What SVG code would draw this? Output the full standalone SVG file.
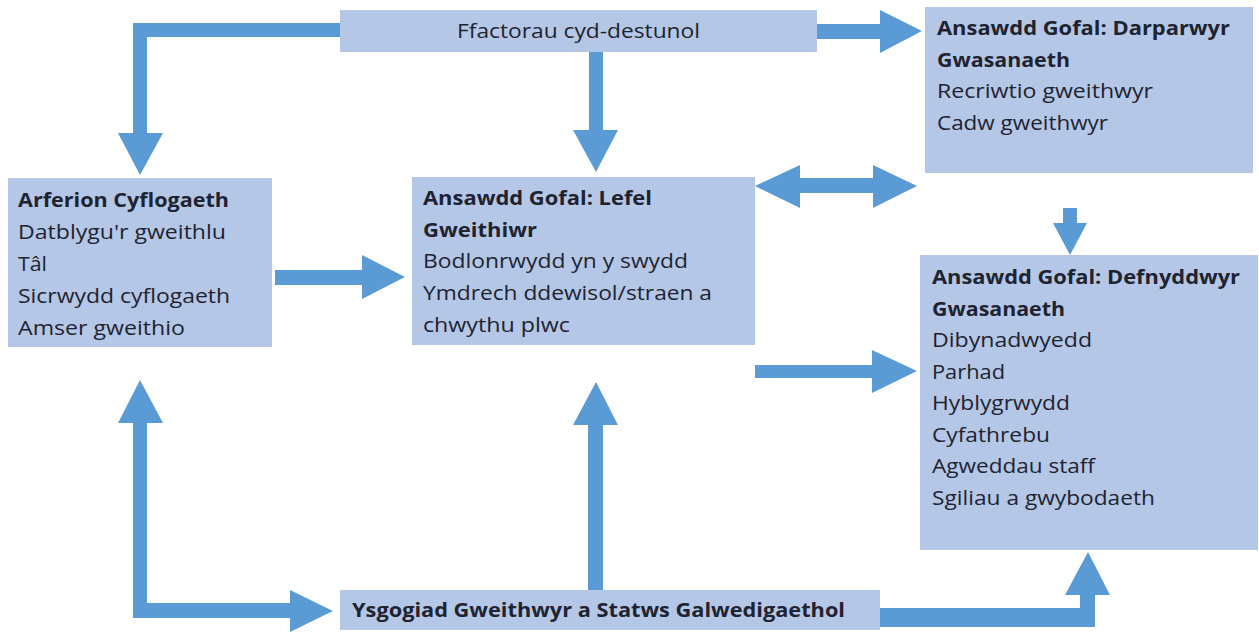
<svg xmlns="http://www.w3.org/2000/svg" width="1259" height="632" viewBox="0 0 1259 632">
<style>
.box{fill:#b4c7e7;}
.arr{fill:#5b9bd5;}
text{font-family:"Open Sans","Liberation Sans",sans-serif;font-size:20px;fill:#1f2330;}
.b{font-weight:bold;}
</style>
<rect x="0" y="0" width="1259" height="632" fill="#ffffff"/>
<g id="connectors">
<polygon class="arr" points="340,23 133,23 133,133 118,133 140,175 163,133 147,133 147,37 340,37"/>
<polygon class="arr" points="589,52 603,52 603,130 618,130 596,172 573,130 589,130"/>
<polygon class="arr" points="817,24 880,24 880,10 922,31 880,53 880,39 817,39"/>
<polygon class="arr" points="275,270 362,270 362,255 405,277 362,299 362,285 275,285"/>
<polygon class="arr" points="755,186 800,165 800,178 873,178 873,165 917,186 873,208 873,193 800,193 800,208"/>
<polygon class="arr" points="1063,208 1077,208 1077,223 1087,223 1070,255 1053,223 1063,223"/>
<polygon class="arr" points="755,365 872,365 872,350 917,371 872,393 872,378 755,378"/>
<polygon class="arr" points="140,380 163,423 147,423 147,603 290,603 290,590 333,611 290,632 290,618 133,618 133,423 118,423"/>
<polygon class="arr" points="596,382 618,425 603,425 603,590 588,590 588,425 573,425"/>
<polygon class="arr" points="880,608 1080,608 1080,595 1065,595 1088,552 1110,595 1095,595 1095,627 880,627"/>
</g>
<g id="ffactorau">
<rect class="box" x="340" y="10" width="477" height="42"/>
<text x="457" y="38" textLength="243" lengthAdjust="spacingAndGlyphs">Ffactorau cyd-destunol</text>
</g>
<g id="arferion">
<rect class="box" x="8" y="178" width="264" height="169"/>
<text class="b" x="18" y="207" textLength="211" lengthAdjust="spacingAndGlyphs">Arferion Cyflogaeth</text>
<text x="18" y="239" textLength="208" lengthAdjust="spacingAndGlyphs">Datblygu'r gweithlu</text>
<text x="18" y="271" textLength="29" lengthAdjust="spacingAndGlyphs">Tâl</text>
<text x="18" y="303" textLength="212" lengthAdjust="spacingAndGlyphs">Sicrwydd cyflogaeth</text>
<text x="18" y="335" textLength="167" lengthAdjust="spacingAndGlyphs">Amser gweithio</text>
</g>
<g id="lefel">
<rect class="box" x="412" y="177" width="343" height="168"/>
<text class="b" x="423" y="205" textLength="229" lengthAdjust="spacingAndGlyphs">Ansawdd Gofal: Lefel</text>
<text class="b" x="423" y="237" textLength="114" lengthAdjust="spacingAndGlyphs">Gweithiwr</text>
<text x="423" y="268" textLength="265" lengthAdjust="spacingAndGlyphs">Bodlonrwydd yn y swydd</text>
<text x="423" y="300" textLength="289" lengthAdjust="spacingAndGlyphs">Ymdrech ddewisol/straen a</text>
<text x="423" y="332" textLength="147" lengthAdjust="spacingAndGlyphs">chwythu plwc</text>
</g>
<g id="darparwyr">
<rect class="box" x="925" y="7" width="328" height="166"/>
<text class="b" x="937" y="35" textLength="293" lengthAdjust="spacingAndGlyphs">Ansawdd Gofal: Darparwyr</text>
<text class="b" x="937" y="67" textLength="133" lengthAdjust="spacingAndGlyphs">Gwasanaeth</text>
<text x="937" y="98" textLength="216" lengthAdjust="spacingAndGlyphs">Recriwtio gweithwyr</text>
<text x="937" y="130" textLength="171" lengthAdjust="spacingAndGlyphs">Cadw gweithwyr</text>
</g>
<g id="defnyddwyr">
<rect class="box" x="920" y="255" width="338" height="295"/>
<text class="b" x="932" y="284" textLength="308" lengthAdjust="spacingAndGlyphs">Ansawdd Gofal: Defnyddwyr</text>
<text class="b" x="932" y="316" textLength="133" lengthAdjust="spacingAndGlyphs">Gwasanaeth</text>
<text x="932" y="347" textLength="160" lengthAdjust="spacingAndGlyphs">Dibynadwyedd</text>
<text x="932" y="379" textLength="73" lengthAdjust="spacingAndGlyphs">Parhad</text>
<text x="932" y="410" textLength="138" lengthAdjust="spacingAndGlyphs">Hyblygrwydd</text>
<text x="932" y="442" textLength="118" lengthAdjust="spacingAndGlyphs">Cyfathrebu</text>
<text x="932" y="473" textLength="163" lengthAdjust="spacingAndGlyphs">Agweddau staff</text>
<text x="932" y="505" textLength="223" lengthAdjust="spacingAndGlyphs">Sgiliau a gwybodaeth</text>
</g>
<g id="ysgogiad">
<rect class="box" x="340" y="590" width="540" height="40"/>
<text class="b" x="352" y="617" textLength="493" lengthAdjust="spacingAndGlyphs">Ysgogiad Gweithwyr a Statws Galwedigaethol</text>
</g>
</svg>
